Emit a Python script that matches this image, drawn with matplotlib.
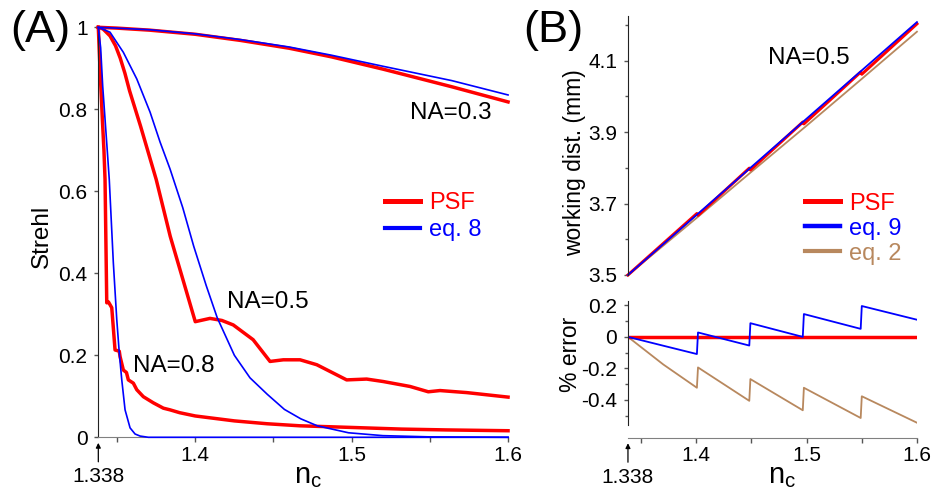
import matplotlib
matplotlib.use('Agg')
import matplotlib.pyplot as plt
from matplotlib.lines import Line2D

plt.rcParams['font.family'] = ['Liberation Sans', 'DejaVu Sans']
plt.rcParams['mathtext.fontset'] = 'custom'
plt.rcParams['mathtext.rm'] = 'Liberation Sans'
plt.rcParams['axes.unicode_minus'] = False

RED = '#ff0000'
BLUE = '#0000ff'
BROWN = '#b8885e'

# ---- panel A: Strehl ratio vs n_c ----
nc_03 = [1.338, 1.35, 1.371, 1.40, 1.429, 1.46, 1.487, 1.52, 1.564, 1.6]
psf_03 = [1.0, 0.998, 0.993, 0.983, 0.968, 0.949, 0.928, 0.898, 0.855, 0.818]
eq8_03 = [1.0, 0.998, 0.994, 0.984, 0.970, 0.952, 0.932, 0.905, 0.870, 0.835]

nc_05_psf = [1.338, 1.341, 1.3455, 1.349, 1.352, 1.355, 1.358, 1.365, 1.370, 1.375,
             1.384, 1.392, 1.4, 1.4094, 1.417, 1.4243, 1.437, 1.4478, 1.4563,
             1.467, 1.4777, 1.4968, 1.5096, 1.5202, 1.5373, 1.549, 1.5565,
             1.5736, 1.6]
psf_05 = [1.0, 0.996, 0.979, 0.955, 0.925, 0.888, 0.845, 0.759, 0.694, 0.629,
          0.49, 0.386, 0.282, 0.29, 0.285, 0.274, 0.238, 0.185, 0.189,
          0.189, 0.177, 0.14, 0.142, 0.136, 0.124, 0.111, 0.114,
          0.109, 0.098]
nc_05_eq8 = [1.338, 1.3455, 1.354, 1.3626, 1.3711, 1.3775, 1.3839, 1.392, 1.399,
             1.407, 1.414, 1.425, 1.435, 1.446, 1.457, 1.4675, 1.478, 1.498,
             1.52, 1.55, 1.6]
eq8_05 = [1.0, 0.988, 0.939, 0.874, 0.793, 0.72, 0.654, 0.56, 0.466,
          0.37, 0.292, 0.2, 0.145, 0.105, 0.068, 0.045, 0.028, 0.011,
          0.004, 0.001, 0.0]

nc_08_psf = [1.338, 1.3391, 1.3406, 1.3416, 1.3423, 1.3434, 1.3445, 1.3466, 1.3487,
             1.3514, 1.3519, 1.354, 1.356, 1.3572, 1.3604, 1.3626, 1.3668, 1.3732,
             1.3796, 1.3838, 1.39, 1.4, 1.425, 1.446, 1.467, 1.5, 1.532, 1.56, 1.6]
psf_08 = [1.0, 0.897, 0.775, 0.70, 0.629, 0.328, 0.33, 0.316, 0.213,
          0.21, 0.197, 0.164, 0.158, 0.14, 0.132, 0.116, 0.099, 0.084,
          0.071, 0.067, 0.06, 0.052, 0.04, 0.033, 0.028, 0.024, 0.02, 0.018, 0.016]
nc_08_eq8 = [1.338, 1.3395, 1.3408, 1.3438, 1.345, 1.3476, 1.3498, 1.3514, 1.353,
             1.3551, 1.3583, 1.3615, 1.3647, 1.37, 1.6]
eq8_08 = [1.0, 0.95, 0.857, 0.695, 0.629, 0.426, 0.287, 0.206, 0.14,
          0.067, 0.023, 0.008, 0.003, 0.0, 0.0]

# ---- panel B: working distance (NA=0.5) ----
nc_wd = [1.338, 1.4, 1.45, 1.5, 1.55, 1.6]
wd_eq9 = [3.500, 3.6675, 3.8026, 3.9377, 4.0728, 4.2079]
wd_eq2 = [3.500, 3.659, 3.789, 3.918, 4.049, 4.181]
nc_wd_psf = [1.338, 1.4005, 1.4015, 1.448, 1.449, 1.4965, 1.4975, 1.549, 1.550, 1.6]
wd_psf = [3.500, 3.672, 3.667, 3.799, 3.794, 3.928, 3.923, 4.068, 4.062, 4.203]

nc_err = [1.338, 1.37, 1.4005, 1.4015, 1.448, 1.449, 1.4965, 1.4975, 1.549, 1.550, 1.6]
err_eq9 = [0.0, -0.056, -0.109, 0.028, -0.055, 0.087, 0.0, 0.145, 0.051, 0.196, 0.109]
err_eq2 = [0.0, -0.175, -0.323, -0.194, -0.406, -0.268, -0.466, -0.323, -0.515, -0.377, -0.545]
err_psf = [0.0, 0.0]
nc_err_psf = [1.338, 1.6]

fig = plt.figure(figsize=(9.31, 4.92), dpi=100)

ax_a = fig.add_axes([0.1056, 0.1112, 0.4401, 0.8333])
ax_b1 = fig.add_axes([0.6745, 0.4411, 0.3104, 0.5264])
ax_b2 = fig.add_axes([0.6745, 0.1104, 0.3104, 0.2785])

TICK_FS = 15
SPINE_C = '#222222'
TICK_C = '#555555'


def base_style(ax):
    ax.spines['top'].set_visible(False)
    ax.spines['right'].set_visible(False)
    ax.spines['left'].set_color(SPINE_C)
    ax.spines['bottom'].set_color('#808080')
    ax.tick_params(which='both', direction='out', width=1, color=TICK_C,
                   labelsize=TICK_FS)
    ax.tick_params(axis='y', which='major', length=3.2, pad=4.5)
    ax.tick_params(axis='y', which='minor', length=2.2)
    ax.tick_params(axis='x', which='both', length=3.3, pad=3)


def nc_axis(ax):
    ax.set_xlim(1.338, 1.6)
    ax.set_xticks([1.4, 1.5, 1.6])
    ax.set_xticklabels(['1.4', '1.5', '1.6'])
    ax.set_xticks([1.35, 1.45, 1.55], minor=True)
    ax.annotate('1.338', xy=(1.338, 0), xycoords=ax.get_xaxis_transform(),
                xytext=(0, -28.5), textcoords='offset points',
                ha='center', va='center', fontsize=TICK_FS,
                arrowprops=dict(arrowstyle='-|>', color='k', lw=0.9,
                                shrinkA=2, shrinkB=4, mutation_scale=7))


# panel A
base_style(ax_a)
ax_a.plot(nc_03, eq8_03, color=BLUE, lw=1.2, clip_on=False, zorder=3)
ax_a.plot(nc_03, psf_03, color=RED, lw=2.5, clip_on=False, zorder=2)
ax_a.plot(nc_05_eq8, eq8_05, color=BLUE, lw=1.2, clip_on=False, zorder=3)
ax_a.plot(nc_05_psf, psf_05, color=RED, lw=2.5, clip_on=False, zorder=2)
ax_a.plot(nc_08_eq8, eq8_08, color=BLUE, lw=1.2, clip_on=False, zorder=3)
ax_a.plot(nc_08_psf, psf_08, color=RED, lw=2.5, clip_on=False, zorder=2)
ax_a.set_ylim(0, 1)
ax_a.set_yticks([0, 0.2, 0.4, 0.6, 0.8, 1])
ax_a.set_yticklabels(['0', '0.2', '0.4', '0.6', '0.8', '1'])
nc_axis(ax_a)
ax_a.set_ylabel('Strehl', fontsize=17.5)
ax_a.yaxis.set_label_coords(-0.11, 0.49)
ax_a.text(0.512, -0.111, r'$\mathrm{n_c}$', transform=ax_a.transAxes,
          ha='center', va='baseline', fontsize=21)
ax_a.text(1.5373, 0.791, 'NA=0.3', fontsize=17.5, va='center')
ax_a.text(1.4203, 0.329, 'NA=0.5', fontsize=17.5, va='center')
ax_a.text(1.3602, 0.174, 'NA=0.8', fontsize=17.5, va='center')
ax_a.legend(handles=[Line2D([], [], color=RED, lw=3.6),
                     Line2D([], [], color=BLUE, lw=3.0)],
            labels=['PSF', 'eq. 8'], labelcolor='linecolor', fontsize=17,
            loc='upper left', bbox_to_anchor=(0.70, 0.598), frameon=False,
            borderpad=0, borderaxespad=0, handlelength=1.47,
            handletextpad=0.39, labelspacing=0.22)

# panel B, working distance
base_style(ax_b1)
ax_b1.spines['bottom'].set_visible(False)
ax_b1.plot(nc_wd, wd_eq2, color=BROWN, lw=1.3, clip_on=False)
ax_b1.plot(nc_wd_psf, wd_psf, color=RED, lw=2.2, clip_on=False)
ax_b1.plot(nc_wd, wd_eq9, color=BLUE, lw=1.3, clip_on=False)
ax_b1.set_xlim(1.338, 1.6)
ax_b1.set_ylim(3.5, 4.225)
ax_b1.set_xticks([])
ax_b1.set_yticks([3.5, 3.7, 3.9, 4.1])
ax_b1.set_yticklabels(['3.5', '3.7', '3.9', '4.1'])
ax_b1.set_yticks([3.6, 3.8, 4.0, 4.2], minor=True)
ax_b1.set_ylabel('working dist. (mm)', fontsize=16.5)
ax_b1.yaxis.set_label_coords(-0.145, 0.432)
ax_b1.text(1.4649, 4.107, 'NA=0.5', fontsize=17.5, va='center')
ax_b1.legend(handles=[Line2D([], [], color=RED, lw=3.6),
                      Line2D([], [], color=BLUE, lw=3.2),
                      Line2D([], [], color=BROWN, lw=3.0)],
             labels=['PSF', 'eq. 9', 'eq. 2'], labelcolor='linecolor', fontsize=17,
             loc='upper left', bbox_to_anchor=(0.612, 0.318), frameon=False,
             borderpad=0, borderaxespad=0, handlelength=1.47,
             handletextpad=0.39, labelspacing=0.13)

# panel B, % error
base_style(ax_b2)
ax_b2.plot(nc_err, err_eq2, color=BROWN, lw=1.3)
ax_b2.plot(nc_err_psf, err_psf, color=RED, lw=2.5)
ax_b2.plot(nc_err, err_eq9, color=BLUE, lw=1.3)
ax_b2.set_ylim(-0.64, 0.23)
ax_b2.spines['left'].set_bounds(-0.56, 0.23)
ax_b2.set_yticks([-0.4, -0.2, 0, 0.2])
ax_b2.set_yticklabels(['-0.4', '-0.2', '0', '0.2'])
ax_b2.set_yticks([-0.5, -0.3, -0.1, 0.1], minor=True)
nc_axis(ax_b2)
ax_b2.set_ylabel('% error', fontsize=16.5)
ax_b2.yaxis.set_label_coords(-0.16, 0.611)
ax_b2.text(0.533, -0.33, r'$\mathrm{n_c}$', transform=ax_b2.transAxes,
           ha='center', va='baseline', fontsize=21)

fig.text(0.0107, 0.937, '(A)', fontsize=32.5, va='center', ha='left')
fig.text(0.5618, 0.937, '(B)', fontsize=32.5, va='center', ha='left')

fig.savefig('out.png', dpi=100)
